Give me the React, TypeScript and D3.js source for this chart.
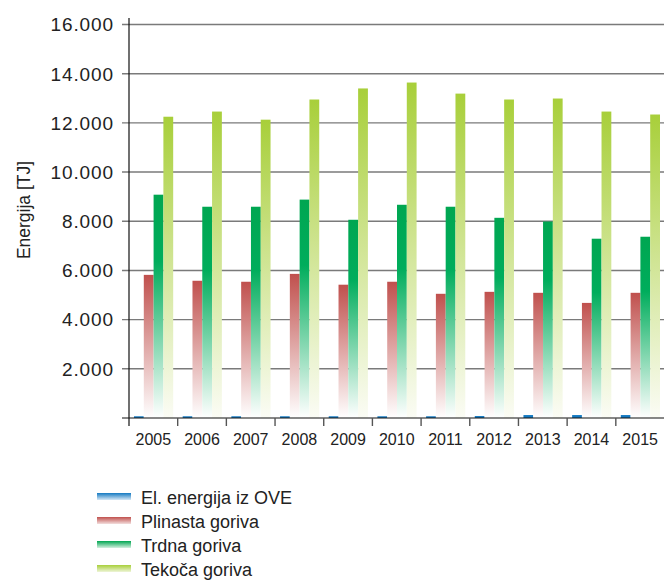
import React from "react";
import * as d3 from "d3";

const years = ["2005","2006","2007","2008","2009","2010","2011","2012","2013","2014","2015"];
const seriesNames = ["El. energija iz OVE","Plinasta goriva","Trdna goriva","Tekoča goriva"];
const elOVE = [70, 70, 70, 70, 70, 70, 70, 80, 120, 120, 120];
const plinasta = [5820, 5580, 5540, 5860, 5420, 5540, 5050, 5130, 5090, 4680, 5090];
const trdna = [9080, 8590, 8590, 8880, 8060, 8670, 8590, 8140, 7990, 7290, 7370];
const tekoca = [12250, 12460, 12130, 12950, 13400, 13640, 13190, 12950, 12990, 12460, 12340];
const yTicks = [2000, 4000, 6000, 8000, 10000, 12000, 14000, 16000];

const seriesData = [elOVE, plinasta, trdna, tekoca];
const gradients = [
  { id: "gBlue", stops: [["0%", "#1479c1"], ["100%", "#1479c1"]] },
  { id: "gRed", stops: [["0%", "#c0504d"], ["100%", "#ffffff"]] },
  { id: "gGreen", stops: [["0%", "#00a651"], ["30%", "#00ad5c"], ["100%", "#ffffff"]] },
  { id: "gLight", stops: [["0%", "#a8cf3a"], ["100%", "#fbfcf5"]] },
];
const legendGradients = [
  { id: "lBlue", stops: [["0%", "#1479c1"], ["100%", "#d7e8f6"]] },
  { id: "lRed", stops: [["0%", "#c0504d"], ["100%", "#f3dedd"]] },
  { id: "lGreen", stops: [["0%", "#00a651"], ["100%", "#d4efdf"]] },
  { id: "lLight", stops: [["0%", "#a8cf3a"], ["100%", "#eef5d8"]] },
];

const fmt = (v: number) => d3.format(",")(v).replace(/,/g, ".");

export default function App() {
  const W = 664, H = 581;
  const x0 = 129, x1 = 664;
  const y = d3.scaleLinear().domain([0, 16000]).range([418, 24.5]);
  const x = d3.scaleBand().domain(years).range([x0, x1 + 0.5]).paddingInner(0).paddingOuter(0);
  const inner = d3.scaleBand().domain(seriesNames).range([5, x.bandwidth() - 4.5]).padding(0);
  const font = "'Liberation Sans', Arial, Helvetica, sans-serif";

  return (
    <svg width={W} height={H} style={{ position: "absolute", left: 0, top: 0, display: "block" }} fontFamily={font}>
      <defs>
        {[...gradients, ...legendGradients].map((g) => (
          <linearGradient key={g.id} id={g.id} x1="0" y1="0" x2="0" y2="1">
            {g.stops.map((s, i) => (
              <stop key={i} offset={s[0]} stopColor={s[1]} />
            ))}
          </linearGradient>
        ))}
      </defs>
      {/* grid lines */}
      {yTicks.map((t) => (
        <line key={t} x1={122} x2={W} y1={y(t)} y2={y(t)} stroke="#7a7a7a" strokeWidth={1.4} />
      ))}
      {/* bars */}
      {years.map((yr, i) => (
        <g key={yr} transform={`translate(${x(yr)},0)`}>
          {seriesNames.map((s, j) => {
            const v = seriesData[j][i];
            return (
              <rect
                key={s}
                x={inner(s)}
                width={inner.bandwidth()}
                y={y(v)}
                height={y(0) - y(v)}
                fill={`url(#${gradients[j].id})`}
              />
            );
          })}
        </g>
      ))}
      {/* y axis */}
      <line x1={x0} x2={x0} y1={18} y2={426} stroke="#111" strokeWidth={1.2} />
      <line x1={122} x2={W} y1={y(0)} y2={y(0)} stroke="#111" strokeWidth={1.2} />
      {yTicks.map((t) => (
        <text key={t} x={114} y={y(t)} dy="0.36em" textAnchor="end" fontSize={19} letterSpacing={0.9} fill="#222">
          {fmt(t)}
        </text>
      ))}
      {/* x ticks */}
      {years.slice(1).map((yr) => (
        <line key={yr} x1={x(yr)!} x2={x(yr)!} y1={y(0)} y2={426} stroke="#555" strokeWidth={1.4} />
      ))}
      {years.map((yr) => (
        <text key={yr} x={x(yr)! + x.bandwidth() / 2} y={445} textAnchor="middle" fontSize={16} fill="#222">
          {yr}
        </text>
      ))}
      <text transform={`translate(29.5,210) rotate(-90)`} textAnchor="middle" fontSize={17.5} fill="#222">
        Energija [TJ]
      </text>
      {/* legend */}
      {seriesNames.map((s, j) => (
        <g key={s} transform={`translate(97,${493 + j * 24})`}>
          <rect x={0} y={0} width={34} height={7} fill={`url(#${legendGradients[j].id})`} />
          <text x={44} y={4.5} dy="0.35em" fontSize={18} fill="#222">
            {s}
          </text>
        </g>
      ))}
    </svg>
  );
}
